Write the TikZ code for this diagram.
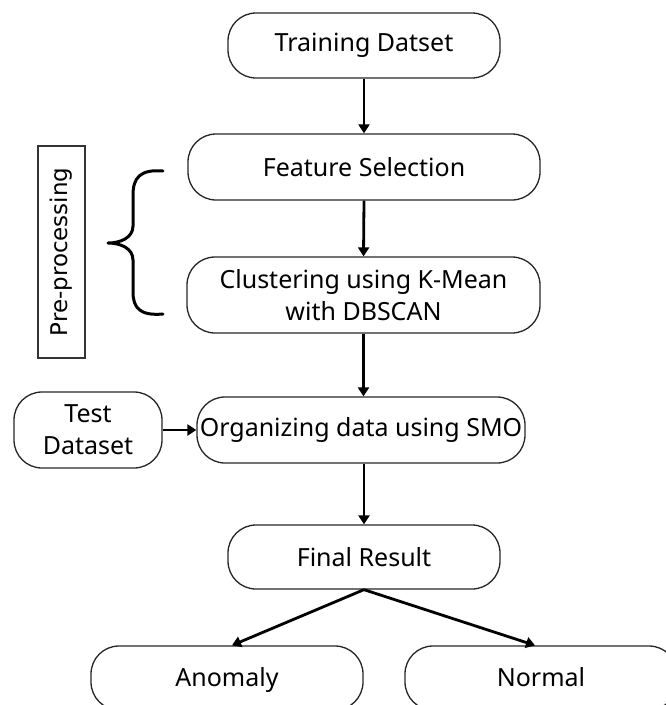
\documentclass[tikz,border=0pt]{standalone}
\usepackage{fontspec}
\setmainfont{Noto Sans}
\newfontfamily\prefont{DejaVu Sans}
\usetikzlibrary{arrows.meta}
\begin{document}
\begin{tikzpicture}[x=1pt,y=-1pt,
  box/.style={draw=black!85, line width=1.3pt, rounded corners=28pt, inner sep=0pt,
    align=center, font=\fontsize{25}{32}\selectfont},
  endbox/.style={box, minimum width=272pt, minimum height=64pt, text height=18pt, text depth=2pt},
  arr/.style={line width=2.8pt, -{Triangle[length=9pt,width=11pt]}},
  prebox/.style={draw=black!80, line width=1.2pt, inner sep=0pt, rotate=90,
    font=\prefont\fontsize{23}{28}\selectfont}
]
\useasboundingbox (0,0) rectangle (665,705);
\node[box, minimum width=272pt, minimum height=65pt] (train) at (364,45.5) {Training Datset};
\node[box, minimum width=352pt, minimum height=66pt] (feat) at (364,167) {Feature Selection};
\node[box, minimum width=353pt, minimum height=76pt] (clust) at (363.5,295) {Clustering using K-Mean\\with DBSCAN};
\node[box, minimum width=328pt, minimum height=66pt] (org) at (361,430) {Organizing data using SMO};
\node[box, minimum width=148pt, minimum height=76pt] (test) at (88,430) {Test\\Dataset};
\node[box, minimum width=272pt, minimum height=64pt] (final) at (364,557) {Final Result};
\node[endbox] (anom) at (227,678) {Anomaly};
\node[endbox] (norm) at (541,678) {Normal};
\node[prebox, minimum width=212pt, minimum height=47pt] (pre) at (61.5,252) {Pre-processing};
\draw[arr] (train.south) -- (feat.north);
\draw[arr] (feat.south) -- (clust.north);
\draw[arr] (clust.south) -- (clust.south |- org.north);
\draw[arr] (org.south -| final) -- (final.north);
\draw[arr] (test.east) -- (org.west);
\draw[arr] (final.south) -- ([xshift=5pt]anom.north);
\draw[arr] (final.south) -- ([xshift=-6pt]norm.north);
\draw[line width=3pt, line cap=round, line join=round]
  (163,171) .. controls (140,169) and (133,178) .. (133,195) -- (133,226)
  .. controls (133,238) and (120,243) .. (108,243)
  .. controls (120,243) and (133,248) .. (133,260) -- (133,292)
  .. controls (133,308) and (140,316) .. (163,314);
\end{tikzpicture}
\end{document}
